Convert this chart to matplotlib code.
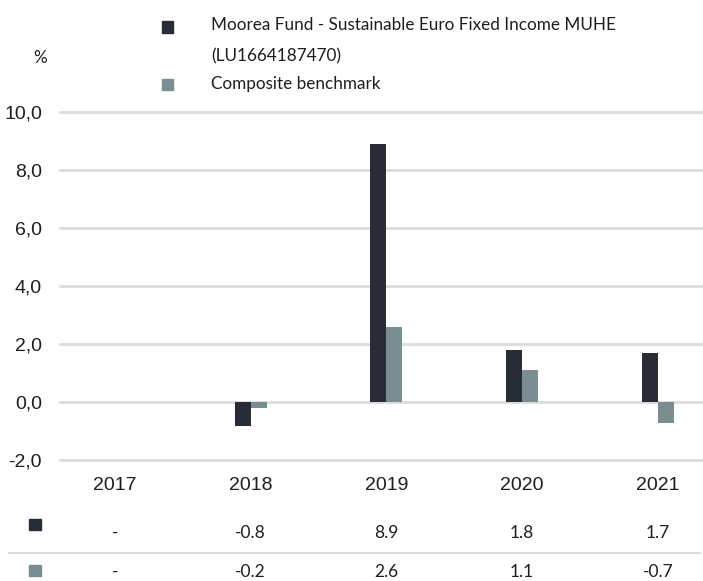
import numpy as np
import matplotlib.pyplot as plt
from matplotlib.patches import Rectangle
from matplotlib.transforms import blended_transform_factory

# Data
years = ['2017', '2018', '2019', '2020', '2021']
fund = [np.nan, -0.8, 8.9, 1.8, 1.7]
bench = [np.nan, -0.2, 2.6, 1.1, -0.7]
fund_name = 'Moorea Fund - Sustainable Euro Fixed Income MUHE\n(LU1664187470)'
bench_name = 'Composite benchmark'
yticks = [-2, 0, 2, 4, 6, 8, 10]

dark = '#272c36'
grey = '#7a8e92'
grid_col = '#dcdcdc'
txt_col = '#1e1e1e'

W, H = 703, 581
fig = plt.figure(figsize=(W / 100, H / 100), dpi=100)


def fx(px):
    return px / W


def fy(py):
    return 1 - py / H


# axes: left edge at x=60px, y from 10 (112px) to -2 (460px)
ax = fig.add_axes([fx(60), fy(460.3), 1 - fx(60), (460.3 - 112.3) / H])
x = np.arange(len(years))
w = 0.118
ax.bar(x - w / 2, fund, width=w, color=dark, zorder=3)
ax.bar(x + w / 2, bench, width=w, color=grey, zorder=3)

ax.set_xlim(-0.405, 4.333)
ax.set_ylim(-2, 10)
ax.set_yticks(yticks)
ax.set_yticklabels([f'{v:.1f}'.replace('.', ',') for v in yticks],
                   fontfamily='Liberation Sans', fontsize=14, color=txt_col)
ax.tick_params(axis='y', length=0, pad=13)
ax.set_xticks([])
ax.yaxis.grid(True, color=grid_col, linewidth=2)
for gl in ax.get_ygridlines():
    gl.set_clip_on(False)
ax.set_axisbelow(True)
for s in ax.spines.values():
    s.set_visible(False)

# year labels
tr = blended_transform_factory(ax.transData, fig.transFigure)
for i, yr in enumerate(years):
    ax.text(i, fy(486), yr, transform=tr, ha='center', va='center',
            fontfamily='Liberation Sans', fontsize=14, color=txt_col)

# data table below
def fmt(v):
    return '-' if np.isnan(v) else f'{v:.1f}'

for i in range(len(years)):
    ax.text(i, fy(533), fmt(fund[i]), transform=tr, ha='center', va='center',
            fontfamily='Lato', fontsize=12.5, color=txt_col)
    ax.text(i, fy(572), fmt(bench[i]), transform=tr, ha='center', va='center',
            fontfamily='Lato', fontsize=12.5, color=txt_col)

fig.add_artist(Rectangle((fx(29), fy(530)), fx(12), 11 / H, color=dark,
                         transform=fig.transFigure))
fig.add_artist(Rectangle((fx(29), fy(576)), fx(12), 11 / H, color=grey,
                         transform=fig.transFigure))
fig.add_artist(plt.Line2D([fx(9), fx(700)], [fy(553), fy(553)],
                          color=grid_col, linewidth=1.5,
                          transform=fig.transFigure))

# legend
fig.add_artist(Rectangle((fx(162), fy(32.5)), fx(11), 11 / H, color=dark,
                         transform=fig.transFigure))
fig.add_artist(Rectangle((fx(162), fy(90)), fx(11), 11 / H, color=grey,
                         transform=fig.transFigure))
fig.text(fx(211), fy(25), fund_name.split('\n')[0], ha='left', va='center',
         fontfamily='Lato', fontsize=12.3, color=txt_col)
fig.text(fx(211), fy(56), fund_name.split('\n')[1], ha='left', va='center',
         fontfamily='Lato', fontsize=12.3, color=txt_col)
fig.text(fx(211), fy(84), bench_name, ha='left', va='center',
         fontfamily='Lato', fontsize=12.3, color=txt_col)
fig.text(fx(40), fy(58), '%', ha='center', va='center',
         fontfamily='Lato', fontsize=12.3, color=txt_col)

fig.savefig('out.png', dpi=100)
